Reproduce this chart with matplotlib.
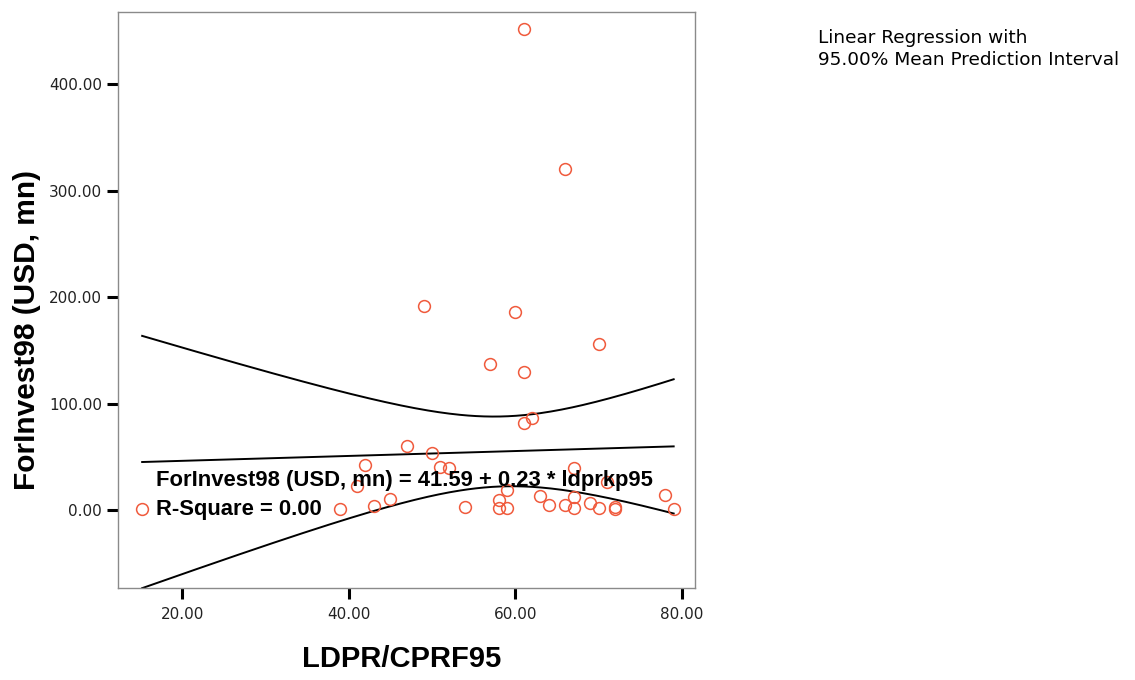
import numpy as np
import matplotlib
matplotlib.use("Agg")
import matplotlib.pyplot as plt

plt.rcParams["font.family"] = ["Liberation Sans", "DejaVu Sans"]

# ---------------------------------------------------------------------------
# Data
# ---------------------------------------------------------------------------
ldprkp95 = [15.2, 61, 66, 49, 60, 70, 57, 61, 61, 62,
            47, 50, 42, 51, 52, 41, 67, 71, 59, 39,
            43, 45, 54, 58, 58, 59, 63, 64, 66, 67,
            67, 69, 70, 72, 72, 78, 79]
forinvest98 = [1, 452, 320, 192, 186, 156, 137, 130, 82, 86,
               60, 54, 42, 40, 39, 23, 39, 26, 19, 1,
               4, 10, 3, 9, 2, 2, 13, 5, 5, 12,
               2, 7, 2, 3, 1, 14, 1]

intercept = 41.59
slope = 0.23
r_square = 0.00
t_crit = 2.03   # df = n - 2

x = np.array(ldprkp95, dtype=float)
y = np.array(forinvest98, dtype=float)
n = len(x)

# mean prediction interval around the fitted line
xs = np.linspace(x.min(), x.max(), 200)
fit = intercept + slope * xs
resid = y - (intercept + slope * x)
s = np.sqrt((resid ** 2).sum() / (n - 2))
sxx = ((x - x.mean()) ** 2).sum()
half = t_crit * s * np.sqrt(1.0 / n + (xs - x.mean()) ** 2 / sxx)

# ---------------------------------------------------------------------------
# Plot
# ---------------------------------------------------------------------------
fig = plt.figure(figsize=(11.35, 6.8), dpi=100)
ax = fig.add_axes([118 / 1135, 1 - 588 / 680, 577 / 1135, 576 / 680])

ax.plot(x, y, linestyle="none", marker="o", markersize=8.5,
        markerfacecolor="none", markeredgecolor="#f05a3c", markeredgewidth=1.1,
        zorder=3)
ax.plot(xs, fit, color="black", linewidth=1.4, zorder=2)
ax.plot(xs, fit + half, color="black", linewidth=1.4, zorder=2)
ax.plot(xs, fit - half, color="black", linewidth=1.4, zorder=2)

ax.set_xlim(12.3, 81.56)
ax.set_ylim(-73.2, 467.6)
ax.set_xticks([20, 40, 60, 80])
ax.set_yticks([0, 100, 200, 300, 400])
ax.xaxis.set_major_formatter(plt.FuncFormatter(lambda v, p: f"{v:.2f}"))
ax.yaxis.set_major_formatter(plt.FuncFormatter(lambda v, p: f"{v:.2f}"))
ax.tick_params(axis="both", direction="out", length=8, width=2.2,
               labelsize=11, colors="black")
ax.tick_params(axis="x", pad=6)
ax.tick_params(axis="y", pad=3.5)
for lbl in ax.get_xticklabels() + ax.get_yticklabels():
    lbl.set_family("DejaVu Sans")
    lbl.set_color("#222222")
for side in ["top", "right", "left", "bottom"]:
    ax.spines[side].set_color("#8a8a8a")
    ax.spines[side].set_linewidth(1.0)

ax.set_xlabel("LDPR/CPRF95", fontsize=21, fontweight="bold")
ax.xaxis.set_label_coords(0.492, -0.137)
ax.xaxis.label.set_va("baseline")
ax.set_ylabel("ForInvest98 (USD, mn)", fontsize=21.5, fontweight="bold")
ax.yaxis.set_label_coords(-0.158, 0.448)
ax.yaxis.label.set_va("center")

ax.text(16.82, 22.5, f"ForInvest98 (USD, mn) = {intercept:.2f} + {slope:.2f} * ldprkp95",
        fontsize=15.8, fontweight="bold", va="baseline", ha="left", zorder=4)
ax.text(16.82, -4.7, f"R-Square = {r_square:.2f}",
        fontsize=15.8, fontweight="bold", va="baseline", ha="left", zorder=4)

fig.text(818 / 1135, 1 - 43 / 680, "Linear Regression with",
         fontsize=13.3, family="DejaVu Sans", va="baseline", ha="left")
fig.text(818 / 1135, 1 - 65 / 680, "95.00% Mean Prediction Interval",
         fontsize=13.3, family="DejaVu Sans", va="baseline", ha="left")

fig.savefig("out.png", dpi=100, facecolor="white")
